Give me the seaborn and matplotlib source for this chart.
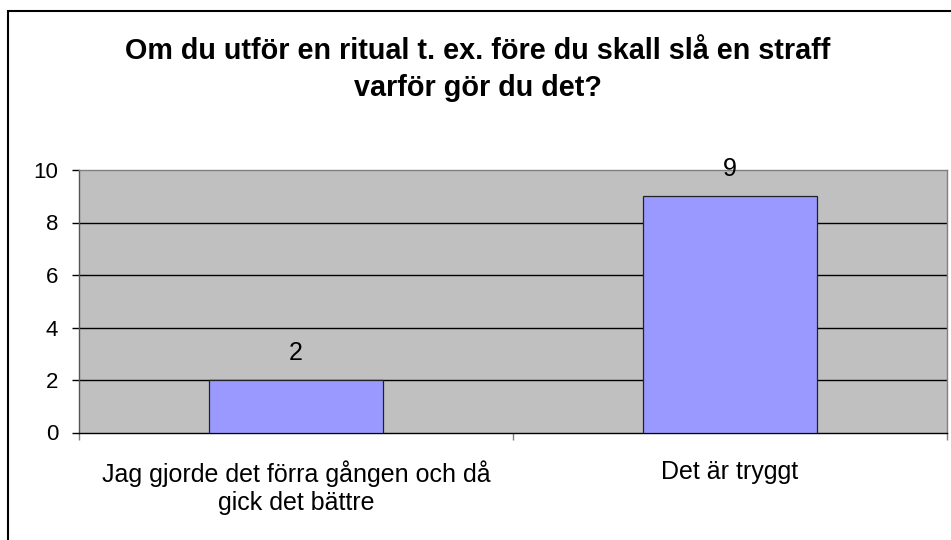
import matplotlib
matplotlib.use("Agg")
import matplotlib.pyplot as plt
import seaborn as sns
import pandas as pd
from matplotlib.patches import Rectangle

sns.set_style("white")
plt.rcParams['font.family'] = ['Liberation Sans', 'DejaVu Sans']
plt.rcParams['text.color'] = 'black'
plt.rcParams['ytick.color'] = 'black'
plt.rcParams['xtick.color'] = 'black'

categories = ["Jag gjorde det förra gången och då\ngick det bättre", "Det är tryggt"]
counts = [2, 9]
yticks = [0, 2, 4, 6, 8, 10]
title = "Om du utför en ritual t. ex. före du skall slå en straff\nvarför gör du det?"

df = pd.DataFrame({"svar": categories, "antal": counts})

fig = plt.figure(figsize=(9.51, 5.4), dpi=100)
ax = fig.add_axes([79 / 951, 1 - 432.5 / 540, 868 / 951, 262.5 / 540])

sns.barplot(data=df, x="svar", y="antal", color="#9999FF", saturation=1,
            width=0.4, edgecolor="#222222", linewidth=0.9, ax=ax, zorder=3)

ax.set_facecolor("#C0C0C0")
ax.set_xlim(-0.5, 1.5)
ax.set_ylim(0, 10)
ax.set_yticks(yticks)
ax.set_xticks([-0.5, 0.5, 1.5])
ax.set_xticklabels([])
ax.tick_params(axis="y", length=5, width=1, color="#000000", labelcolor="black",
               labelsize=16, pad=10, left=True)
ax.tick_params(axis="x", length=5, width=1, color="#808080", bottom=True)
for y in yticks[1:-1]:
    ax.axhline(y, color="black", lw=1, zorder=1)
ax.set_xlabel("")
ax.set_ylabel("")

# kategorietiketter under axeln
for i, lab in enumerate(categories):
    ax.text(i, -1.05, lab, ha="center", va="top", fontsize=18, linespacing=1.2, color="black")

# värden ovanför staplarna
for i, v in enumerate(counts):
    ax.text(i, v + 0.76, str(v), ha="center", va="baseline", fontsize=18, zorder=5, color="black")

ax.spines["top"].set_color("#808080")
ax.spines["right"].set_color("#808080")
ax.spines["left"].set_color("#555555")
ax.spines["bottom"].set_color("black")
for s in ax.spines.values():
    s.set_linewidth(1)

fig.text(478 / 951, 1 - 36.5 / 540, title, ha="center", va="top", color="black",
         fontsize=20.7, fontweight="bold", linespacing=1.45)

fig.patches.append(Rectangle((7.5 / 951, -0.5), 2, 0.5 + (1 - 10.5 / 540), transform=fig.transFigure,
                             fill=False, edgecolor="black", lw=1.5, zorder=10))

fig.savefig("out.png", dpi=100)
